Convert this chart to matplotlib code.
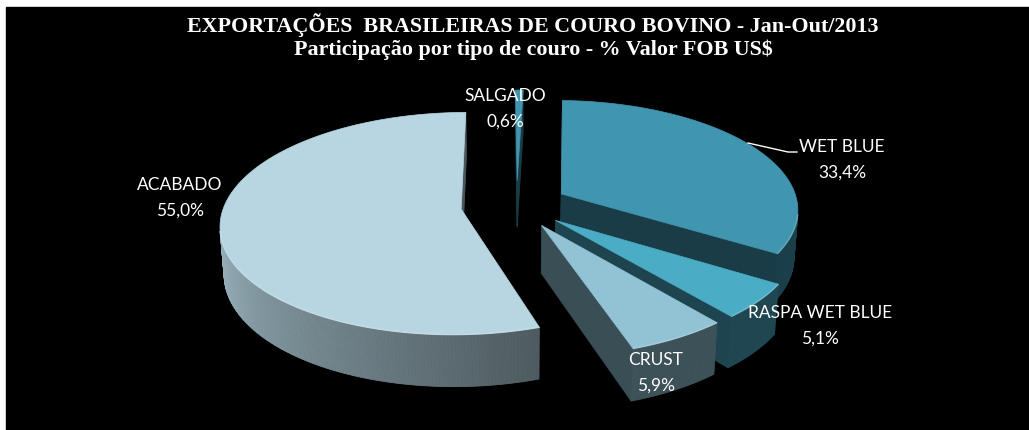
import numpy as np
import matplotlib

matplotlib.use("Agg")
import matplotlib.pyplot as plt
from matplotlib.colors import to_rgb
from matplotlib.patches import Polygon, Rectangle

# Dados: participacao por tipo de couro (% valor FOB), sentido horario a partir do topo
categories = ["WET BLUE", "RASPA WET BLUE", "CRUST", "ACABADO", "SALGADO"]
shares = [33.4, 5.1, 5.9, 55.0, 0.6]
colors = ["#4096B0", "#4BACC6", "#92C3D4", "#B8D6E2", "#4096B0"]
explode = [0.217, 0.214, 0.212, 0.236, 0.230]

# Posicao dos rotulos (centro do nome; o percentual fica logo abaixo)
label_pos = [(842, 147), (820, 313), (656, 360), (180, 185), (505, 96)]

# Camera da pizza 3D (estilo Excel com perspectiva)
SCALE = 236.9
ELEV = 0.4593
CAM_DIST = 6.96
CENTER = (516.6, 204.9)
THICK = 0.2175
Y_STRETCH = 1.03
ROTATION = 1.7


def project(x, y, z):
    v = y * np.sin(ELEV) + z * np.cos(ELEV)
    w = y * np.cos(ELEV) - z * np.sin(ELEV)
    k = CAM_DIST / (CAM_DIST + w)
    return CENTER[0] + SCALE * x * k, CENTER[1] - SCALE * Y_STRETCH * v * k


def depth(x, y, z):
    return y * np.cos(ELEV) - z * np.sin(ELEV)


def shade(hexc, f):
    return tuple(np.clip(np.array(to_rgb(hexc)) * f, 0, 1))


def lighten(hexc, f):
    c = np.array(to_rgb(hexc))
    return tuple(c + (1 - c) * f)


def side_factor(th):
    # lado externo: claro a esquerda, escuro na frente/direita
    th = th % 360
    if th < 160:
        return 0.42
    if th <= 270:
        return 0.42 + 0.46 * (th - 160) / 110
    return 0.88


starts = np.concatenate([[0], np.cumsum(shares)[:-1]]) * 3.6 + ROTATION
ends = np.cumsum(shares) * 3.6 + ROTATION
cam = np.array([0, -CAM_DIST * np.cos(ELEV), CAM_DIST * np.sin(ELEV)])

fig = plt.figure(figsize=(10.29, 4.30), dpi=100)
ax = fig.add_axes([0, 0, 1, 1])
ax.set_xlim(0, 1029)
ax.set_ylim(430, 0)
ax.axis("off")
ax.add_patch(Rectangle((6, 7), 1030, 430, color="black"))

faces = []
tops = []
rims = []
for k in range(len(shares)):
    t1, t2 = starts[k], ends[k]
    mid = np.radians((t1 + t2) / 2)
    P = np.array([explode[k] * np.sin(mid), explode[k] * np.cos(mid)])
    ths = np.linspace(t1, t2, max(3, int((t2 - t1) / 0.5)))
    rim = np.array([P + [np.sin(np.radians(t)), np.cos(np.radians(t))] for t in ths])
    tops.append(([project(q[0], q[1], 0.0) for q in [P] + list(rim)], colors[k]))

    # lado externo em faixas estreitas (permite o degrade)
    for i in range(len(ths) - 1):
        tm = np.radians((ths[i] + ths[i + 1]) / 2)
        n = np.array([np.sin(tm), np.cos(tm), 0])
        c3 = np.array([rim[i][0], rim[i][1], -THICK / 2])
        if n @ (cam - c3) <= 0:
            continue
        quad3 = [(rim[i], 0), (rim[i + 1], 0), (rim[i + 1], -THICK), (rim[i], -THICK)]
        quad = [project(q[0], q[1], z) for q, z in quad3]
        d = np.mean([depth(q[0], q[1], z) for q, z in quad3])
        faces.append((d, quad, shade(colors[k], side_factor(np.degrees(tm)))))
        rims.append(([quad[0], quad[1]], lighten(colors[k], 0.35)))

    # faces de corte radiais
    for t, sign in ((t1, -1), (t2, 1)):
        tr = np.radians(t)
        n = sign * np.array([np.cos(tr), -np.sin(tr), 0])
        R = P + [np.sin(tr), np.cos(tr)]
        c3 = np.array([(P[0] + R[0]) / 2, (P[1] + R[1]) / 2, -THICK / 2])
        if n @ (cam - c3) <= 0:
            continue
        quad3 = [(P, 0), (R, 0), (R, -THICK), (P, -THICK)]
        quad = [project(q[0], q[1], z) for q, z in quad3]
        d = np.mean([depth(q[0], q[1], z) for q, z in quad3])
        faces.append((d, quad, shade(colors[k], 0.40)))

for d, quad, col in sorted(faces, key=lambda f: -f[0]):
    ax.add_patch(Polygon(quad, closed=True, facecolor=col, edgecolor=col, lw=0.6))
for poly, col in tops:
    ax.add_patch(Polygon(poly, closed=True, facecolor=col, edgecolor=col, lw=0.5))
for seg, col in rims:
    ax.plot([seg[0][0], seg[1][0]], [seg[0][1], seg[1][1]], color=col, lw=1.0,
            alpha=0.7, solid_capstyle="butt")

# titulo
title_font = dict(family="Liberation Serif", weight="bold", color="white",
                  ha="center", va="center", fontsize=15.8)
ax.text(533, 25, "EXPORTAÇÕES  BRASILEIRAS DE COURO BOVINO - Jan-Out/2013", **title_font)
ax.text(533, 50, "Participação por tipo de couro - % Valor FOB US$", **title_font)

# rotulos
for name, share, (lx, ly) in zip(categories, shares, label_pos):
    pct = f"{share:.1f}%".replace(".", ",")
    ax.text(lx, ly, name, family="Lato", fontsize=12.5, color="white", ha="center", va="center")
    ax.text(lx, ly + 26, pct, family="Lato", fontsize=12.5, color="white", ha="center", va="center")
ax.plot([748, 788, 797], [143, 152, 152], color="white", lw=1)

fig.savefig("out.png")
